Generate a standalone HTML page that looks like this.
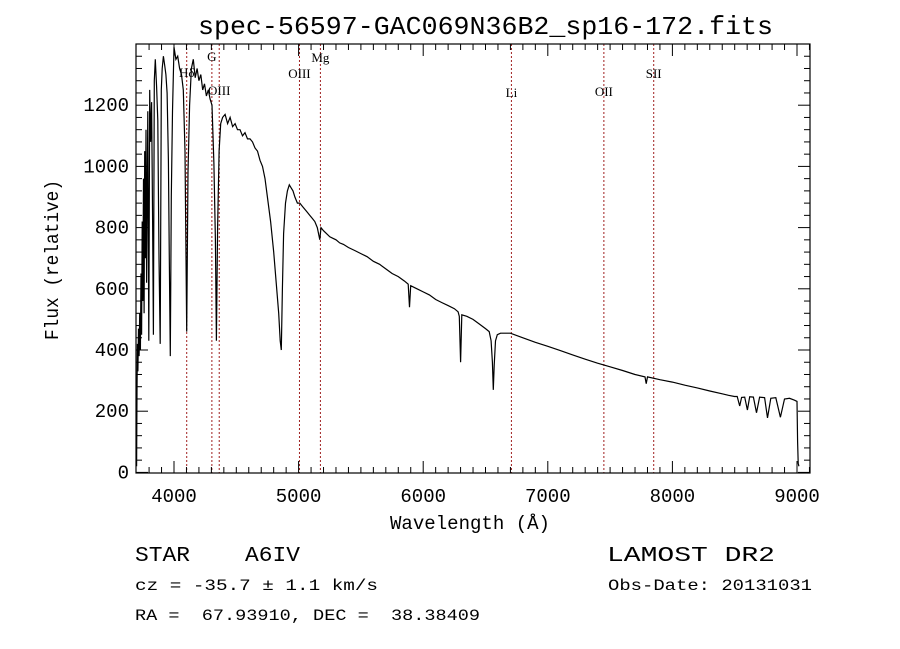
<!DOCTYPE html>
<html><head><meta charset="utf-8"><style>
html,body{margin:0;padding:0;background:#fff;}
svg{display:block;font-family:"Liberation Mono",monospace;}
</style></head><body>
<svg id="chart" width="900" height="649" viewBox="0 0 900 649" xmlns="http://www.w3.org/2000/svg">
<rect width="900" height="649" fill="#fff"/>
<text x="198" y="34" font-size="26" textLength="575" lengthAdjust="spacingAndGlyphs">spec-56597-GAC069N36B2_sp16-172.fits</text>
<g id="lines"></g>
<path id="spec" fill="none" stroke="#000" stroke-width="1.2"/>
<g id="axes"></g>
<text x="390" y="529" font-size="19" textLength="160" lengthAdjust="spacingAndGlyphs">Wavelength (Å)</text>
<text transform="translate(58,340) rotate(-90)" font-size="19" textLength="160" lengthAdjust="spacingAndGlyphs">Flux (relative)</text>
<text x="135" y="561" font-size="21" textLength="165" lengthAdjust="spacingAndGlyphs" xml:space="preserve">STAR    A6IV</text>
<text x="607" y="561" font-size="21" textLength="168" lengthAdjust="spacingAndGlyphs">LAMOST DR2</text>
<text x="135" y="590" font-size="16" textLength="243" lengthAdjust="spacingAndGlyphs">cz = -35.7 ± 1.1 km/s</text>
<text x="608" y="590" font-size="16" textLength="204" lengthAdjust="spacingAndGlyphs">Obs-Date: 20131031</text>
<text x="135" y="620" font-size="16" textLength="345" lengthAdjust="spacingAndGlyphs" xml:space="preserve">RA =  67.93910, DEC =  38.38409</text>
</svg>
<script>
const wavelengths=[
3700,3703,3706,3710,3715,3720,3725,3730,3735,3740,
3745,3750,3755,3760,3765,3770,3775,3780,3790,3798,
3805,3812,3820,3828,3835,3842,3850,3860,3870,3880,
3889,3898,3905,3915,3925,3935,3945,3955,3962,3970,
3978,3988,4000,4015,4030,4045,4060,4075,4088,4102,
4112,4125,4140,4155,4170,4185,4200,4215,4230,4245,
4260,4275,4290,4305,4320,4332,4340,4350,4362,4375,
4390,4410,4430,4450,4470,4490,4510,4530,4550,4570,
4590,4610,4630,4650,4670,4690,4710,4730,4750,4775,
4800,4820,4840,4852,4861,4870,4880,4895,4910,4925,
4940,4955,4970,4990,5010,5030,5050,5070,5090,5110,
5130,5150,5170,5180,5200,5225,5250,5275,5300,5330,
5360,5400,5450,5500,5550,5600,5650,5700,5750,5800,
5850,5880,5890,5900,5950,6000,6050,6100,6150,6200,
6250,6280,6290,6300,6310,6350,6400,6450,6500,6530,
6545,6555,6563,6570,6580,6595,6620,6700,6800,6900,
7000,7100,7200,7300,7400,7500,7600,7700,7780,7790,
7800,7900,8000,8100,8200,8300,8400,8450,8498,8520,
8540,8555,8580,8602,8620,8650,8675,8700,8740,8763,
8790,8830,8867,8900,8940,8980,9000,9005,9010,9015];
const fluxValues=[
20,260,420,330,470,380,520,400,650,450,
820,560,960,520,1050,700,1120,620,1180,430,
1250,1080,1210,820,450,1280,1350,1260,1150,700,
420,1250,1320,1360,1330,1300,1240,1020,700,380,
900,1180,1390,1350,1360,1320,1300,1250,1050,460,
980,1200,1320,1350,1290,1320,1280,1300,1250,1270,
1230,1250,1220,1200,1010,760,430,800,1050,1140,
1160,1170,1140,1160,1130,1140,1120,1120,1100,1110,
1090,1090,1080,1060,1050,1020,1000,960,900,820,
720,620,520,430,400,600,780,880,920,940,
930,920,900,880,880,870,860,850,840,830,
820,800,760,800,790,780,770,765,760,750,
745,735,725,715,705,690,680,665,650,640,
625,615,540,610,600,590,580,565,555,545,
535,525,510,360,515,510,500,485,470,460,
430,360,270,350,430,450,455,455,440,425,
412,398,384,370,357,345,333,320,312,290,
312,303,295,285,276,266,257,252,248,248,
217,245,246,204,247,246,195,246,244,178,
242,244,180,240,242,236,232,100,30,20];
const lineWaves=[4102,4304,4363,5007,5175,6708,7450,7850];
const lineNames=["Hδ","G","OIII","OIII","Mg","Li","OII","SII"];
const lineLabelY=[77,61,95,78,62,97,96,78];
const xTicks=[4000,5000,6000,7000,8000,9000];
const yTicks=[0,200,400,600,800,1000,1200];
const X0=136,X1=810,Y0=44,Y1=473;
function xs(w){return 174+(w-4000)*0.1246;}
function ys(v){return 472.4-v*0.306;}
const NS="http://www.w3.org/2000/svg";
function mk(tag,attrs,parent){const e=document.createElementNS(NS,tag);for(const k in attrs)e.setAttribute(k,attrs[k]);parent.appendChild(e);return e;}
let d="";
const n=Math.min(wavelengths.length,fluxValues.length);
for(let i=0;i<n;i++){d+=(i?"L":"M")+xs(wavelengths[i]).toFixed(1)+" "+Math.min(ys(fluxValues[i]),473).toFixed(1);}
document.getElementById('spec').setAttribute('d',d);
const lg=document.getElementById('lines');
lineWaves.forEach((w,i)=>{
  const l=mk('line',{x1:xs(w),x2:xs(w),y1:Y0,y2:Y1,stroke:'#a02020','stroke-width':1,'stroke-dasharray':'2,2'},lg);
  
  
  const t=mk('text',{x:xs(w),y:lineLabelY[i],'font-size':13,'text-anchor':'middle','font-family':'Liberation Serif, serif'},lg);
  t.textContent=lineNames[i];
  
  
});
const ag=document.getElementById('axes');
const fr=mk('rect',{x:X0,y:Y0,width:X1-X0,height:Y1-Y0,fill:'none',stroke:'#000','stroke-width':1.2},ag);


for(let w=3800;w<=9100;w+=100){
  const major=w%1000===0, len=major?12:6, x=xs(w);
  if(x<X0||x>X1)continue;
  mk('line',{x1:x,x2:x,y1:Y1,y2:Y1-len,stroke:'#000'},ag);
  mk('line',{x1:x,x2:x,y1:Y0,y2:Y0+len,stroke:'#000'},ag);
}
xTicks.forEach(w=>{
  const t=mk('text',{x:xs(w),y:502,'font-size':19,'text-anchor':'middle'},ag);
  t.textContent=w;
  
  
});
for(let v=0;v<=1400;v+=40){
  const major=v%200===0, len=major?12:6, y=ys(v);
  if(y<Y0)continue;
  mk('line',{x1:X0,x2:X0+len,y1:y,y2:y,stroke:'#000'},ag);
  mk('line',{x1:X1,x2:X1-len,y1:y,y2:y,stroke:'#000'},ag);
}
yTicks.forEach(v=>{
  const t=mk('text',{x:129,y:ys(v)+6,'font-size':19,'text-anchor':'end'},ag);
  t.textContent=v;
  
  
});
</script>
</body></html>
